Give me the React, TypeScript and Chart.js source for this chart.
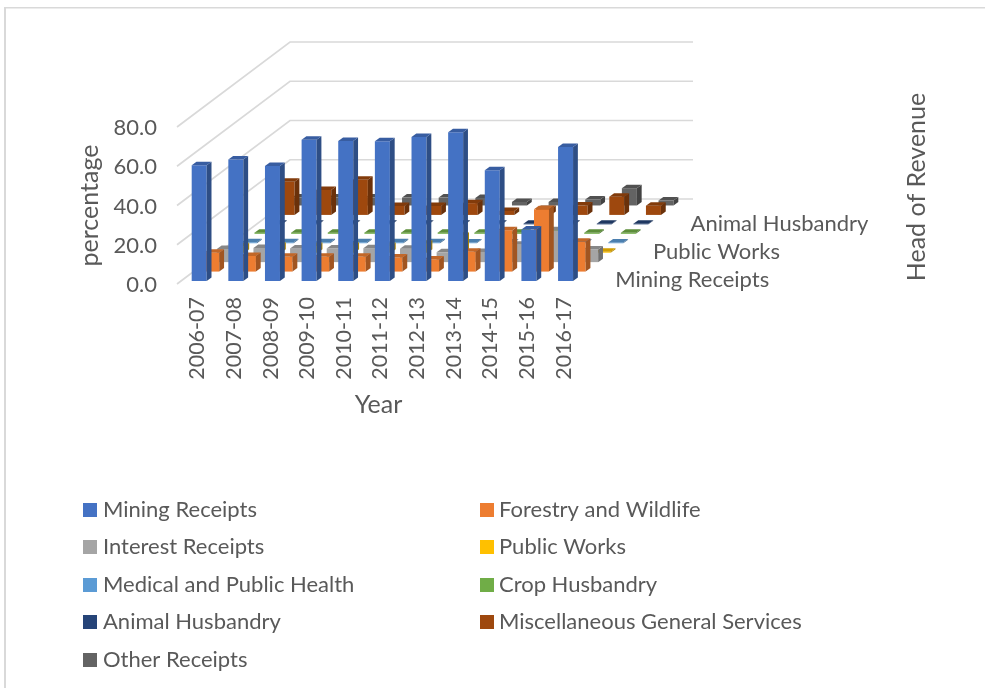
import { useEffect, useRef } from "react";
import { BarController, Chart, registerables } from "chart.js";

const years = ["2006-07", "2007-08", "2008-09", "2009-10", "2010-11", "2011-12", "2012-13", "2013-14", "2014-15", "2015-16", "2016-17"];
const yTicks = [0, 20, 40, 60, 80];

const miningReceipts = [59.0, 61.9, 58.6, 72.0, 71.3, 71.2, 73.4, 75.8, 56.4, 26.2, 68.3];
const forestryAndWildlife = [9.6, 8.0, 7.5, 7.5, 7.5, 7.2, 6.2, 10.1, 21.1, 31.7, 15.2];
const interestReceipts = [6.7, 7.2, 7.0, 6.9, 7.1, 6.8, 5.0, 5.2, 8.8, 16.2, 6.4];
const publicWorks = [3.3, 3.5, 3.4, 3.6, 3.4, 4.5, 8.6, 0.6, 0.5, 0.5, 0.5];
const medicalAndPublicHealth = [0.5, 0.5, 0.5, 0.5, 0.5, 0.5, 0.4, 0.4, 0.4, 0.4, 0.4];
const cropHusbandry = [0.6, 0.6, 0.6, 0.6, 0.6, 0.6, 0.5, 0.5, 0.5, 0.5, 0.5];
const animalHusbandry = [0.3, 0.3, 0.3, 0.3, 0.3, 0.3, 0.3, 0.3, 0.3, 0.3, 0.3];
const miscGeneralServices = [16.9, 12.7, 17.9, 4.6, 4.6, 6.0, 2.0, 3.0, 4.8, 9.3, 4.7];
const otherReceipts = [4.0, 4.0, 4.0, 4.0, 4.0, 3.8, 1.8, 1.8, 3.0, 8.8, 2.5];

const seriesNames = ["Mining Receipts", "Forestry and Wildlife", "Interest Receipts", "Public Works", "Medical and Public Health", "Crop Husbandry", "Animal Husbandry", "Miscellaneous General Services", "Other Receipts"];
const seriesValues = [miningReceipts, forestryAndWildlife, interestReceipts, publicWorks, medicalAndPublicHealth, cropHusbandry, animalHusbandry, miscGeneralServices, otherReceipts];
const seriesColors = ["#4472C4", "#ED7D31", "#A5A5A5", "#FFC000", "#5B9BD5", "#70AD47", "#264478", "#9E480E", "#636363"];
const depthLabelRows = [0, 3, 6];

const FONT = "Lato";
const TEXT = "#595959";
const GRID = "#D9D9D9";
const LABEL_SIZE = 22;
const YEAR_SIZE = 21.5;
const TITLE_SIZE = 25;

// Oblique projection of the floor: how far the back wall sits from the front edge.
const DEPTH_X = 113;
const DEPTH_Y = 85;
const BOX_X = 4.8;
const BOX_Y = 3.5;

function shade(hex: string, f: number) {
  const n = parseInt(hex.slice(1), 16);
  const c = [(n >> 16) & 255, (n >> 8) & 255, n & 255].map((v) => Math.round(v * f));
  return `rgb(${c[0]},${c[1]},${c[2]})`;
}

function quad(ctx: CanvasRenderingContext2D, pts: number[][], fill: string) {
  ctx.fillStyle = fill;
  ctx.beginPath();
  pts.forEach(([x, y], i) => (i ? ctx.lineTo(x, y) : ctx.moveTo(x, y)));
  ctx.closePath();
  ctx.fill();
}

// Bars laid out by the stock controller, painted as boxes set back along the depth axis by series.
class Box3DController extends BarController {
  static id = "box3d";
  static defaults = BarController.defaults;
  static overrides = BarController.overrides;

  draw() {
    const ctx = this.chart.ctx;
    const rows = this.chart.data.datasets.length;
    const row = this.index;
    const color = seriesColors[row];
    const offX = (DEPTH_X * (row + 0.5)) / rows - BOX_X / 2;
    const offY = (DEPTH_Y * (row + 0.5)) / rows - BOX_Y / 2;
    ctx.save();
    for (const bar of this._cachedMeta.data as any[]) {
      const l = bar.x - bar.width / 2 + offX;
      const r = l + bar.width;
      const t = bar.y - offY;
      const b = bar.base - offY;
      quad(ctx, [[l, t], [r, t], [r, b], [l, b]], color);
      quad(ctx, [[r, t], [r + BOX_X, t - BOX_Y], [r + BOX_X, b - BOX_Y], [r, b]], shade(color, 0.68));
      quad(ctx, [[l, t], [l + BOX_X, t - BOX_Y], [r + BOX_X, t - BOX_Y], [r, t]], shade(color, 0.82));
    }
    ctx.restore();
  }
}

Chart.register(...registerables, Box3DController);

// Thin frame along the top and left edges, plus the side and back wall gridlines.
const wallsPlugin = {
  id: "walls",
  beforeDatasetsDraw(chart: any) {
    const { ctx, scales } = chart;
    ctx.save();
    ctx.fillStyle = GRID;
    ctx.fillRect(4, 7, 981, 1.5);
    ctx.fillRect(4, 7, 2, 681);
    ctx.strokeStyle = GRID;
    ctx.lineWidth = 1.7;
    for (const v of yTicks) {
      const y = scales.y.getPixelForValue(v);
      ctx.beginPath();
      ctx.moveTo(scales.x.left, y);
      ctx.lineTo(scales.x.left + DEPTH_X, y - DEPTH_Y);
      ctx.lineTo(scales.x.right + DEPTH_X, y - DEPTH_Y);
      ctx.stroke();
    }
    ctx.restore();
  },
};

// Depth axis labels, its title, and the two-column key under the plot.
const annotationsPlugin = {
  id: "annotations",
  afterDraw(chart: any) {
    const { ctx, scales, data } = chart;
    const rows = data.datasets.length;
    ctx.save();
    ctx.font = `${LABEL_SIZE}px ${FONT}`;
    ctx.fillStyle = TEXT;
    ctx.textAlign = "left";
    ctx.textBaseline = "middle";
    for (const row of depthLabelRows) {
      const t = (row + 0.5) / rows;
      ctx.fillText(data.datasets[row].label, scales.x.right + DEPTH_X * t + 29, scales.y.bottom - DEPTH_Y * t + 1);
    }
    ctx.save();
    ctx.font = `${TITLE_SIZE}px ${FONT}`;
    ctx.translate(917, 187);
    ctx.rotate(-Math.PI / 2);
    ctx.textAlign = "center";
    ctx.fillText("Head of Revenue", 0, 0);
    ctx.restore();

    const rowY = [510, 547, 585, 622, 660];
    const colX = [83, 480];
    const textGap = [20, 19];
    data.datasets.forEach((ds: any, i: number) => {
      const col = i % 2;
      const y = rowY[Math.floor(i / 2)];
      ctx.fillStyle = seriesColors[i];
      ctx.fillRect(colX[col], y - 7, 14, 14);
      ctx.fillStyle = TEXT;
      ctx.fillText(ds.label, colX[col] + textGap[col], y);
    });
    ctx.restore();
  },
};

export default function App() {
  const ref = useRef<HTMLCanvasElement>(null);
  useEffect(() => {
    const chart = new Chart(ref.current!, {
      type: "box3d" as any,
      data: {
        labels: years,
        datasets: seriesNames.map((label, i) => ({
          label,
          data: seriesValues[i],
          backgroundColor: seriesColors[i],
          grouped: false,
          barThickness: 15,
          clip: false,
        })) as any,
      },
      options: {
        animation: false,
        responsive: false,
        events: [],
        layout: { padding: { left: 75, right: 405, top: 127, bottom: 268 } },
        plugins: { legend: { display: false }, tooltip: { enabled: false } },
        scales: {
          x: {
            type: "category",
            offset: true,
            grid: { display: false, drawTicks: false },
            border: { display: false },
            afterFit(s: any) {
              s.height = 136;
            },
            ticks: {
              autoSkip: false,
              minRotation: 90,
              maxRotation: 90,
              padding: 13,
              labelOffset: 2,
              color: TEXT,
              font: { family: FONT, size: YEAR_SIZE },
            },
            title: { display: true, text: "Year", color: TEXT, padding: 0, font: { family: FONT, size: TITLE_SIZE } },
          },
          y: {
            type: "linear",
            min: 0,
            max: 80,
            afterFit(s: any) {
              s.width = 102;
            },
            afterBuildTicks(s: any) {
              s.ticks = yTicks.map((value) => ({ value }));
            },
            grid: { display: false, drawTicks: false },
            border: { display: false },
            ticks: {
              padding: 20,
              labelOffset: 1,
              color: TEXT,
              font: { family: FONT, size: LABEL_SIZE },
              callback: (v: any) => Number(v).toFixed(1),
            },
            title: { display: true, text: "percentage", color: TEXT, padding: 0, font: { family: FONT, size: TITLE_SIZE } },
          },
        },
      },
      plugins: [wallsPlugin, annotationsPlugin],
    } as any);
    return () => chart.destroy();
  }, []);
  return (
    <div style={{ position: "absolute", left: 0, top: 0, width: 985, height: 688, overflow: "hidden", background: "#fff" }}>
      <canvas ref={ref} width={985} height={688} style={{ display: "block" }} />
    </div>
  );
}
